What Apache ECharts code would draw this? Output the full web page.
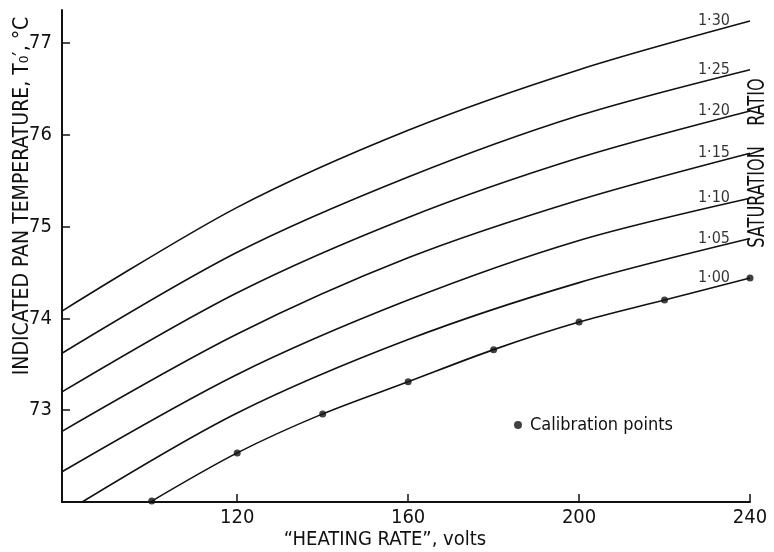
<!DOCTYPE html>
<html>
<head>
<meta charset="utf-8">
<script src="https://cdn.jsdelivr.net/npm/echarts@6/dist/echarts.min.js"></script>
<style>html,body{margin:0;padding:0;background:#fff}#c{width:774px;height:552px}</style>
</head>
<body>
<div id="c"></div>
<script>
// Heating rate (volts) at which each curve is read
const heatingRate = [79, 120, 160, 200, 240];
const heatingRate105 = [83.7, 120, 160, 200, 240];
// Indicated pan temperature (deg C) for each saturation ratio
const sr130 = [74.08, 75.21, 76.05, 76.71, 77.24];
const sr125 = [73.62, 74.72, 75.54, 76.21, 76.71];
const sr120 = [73.20, 74.28, 75.10, 75.75, 76.26];
const sr115 = [72.77, 73.83, 74.66, 75.29, 75.80];
const sr110 = [72.33, 73.39, 74.20, 74.85, 75.31];
const sr105 = [72.00, 72.97, 73.77, 74.39, 74.87];
// Calibration points (saturation ratio 1.00)
const calVolts = [100, 120, 140, 160, 180, 200, 220, 240];
const calTemp = [72.01, 72.535, 72.96, 73.31, 73.66, 73.96, 74.20, 74.44];
// Labels
const ratioLabels = ['1·30', '1·25', '1·20', '1·15', '1·10', '1·05', '1·00'];
const xTicks = [120, 160, 200, 240];
const yTicks = [73, 74, 75, 76, 77];

const FONT = '"Liberation Sans Narrow", "DejaVu Sans Condensed", Lato, sans-serif';
const zip = (xs, ys) => xs.map((x, i) => [x, ys[i]]);
const curves = [
  zip(heatingRate, sr130), zip(heatingRate, sr125), zip(heatingRate, sr120),
  zip(heatingRate, sr115), zip(heatingRate, sr110), zip(heatingRate105, sr105),
  zip(calVolts, calTemp)
];

const series = curves.map((d, i) => ({
  type: 'line', name: ratioLabels[i], data: d, smooth: 0.3, showSymbol: false,
  lineStyle: { color: '#111', width: 1.6 }, silent: true, z: 2
}));
series.push({
  type: 'scatter', name: 'labels',
  data: curves.map((d, i) => ({ value: d[d.length - 1], name: ratioLabels[i] })),
  symbolSize: 0, itemStyle: { color: '#111' }, silent: true,
  label: { show: true, position: 'inside', formatter: p => p.name, align: 'right',
    offset: [-20, 0], color: '#000', fontSize: 16, fontFamily: FONT }
});
series.push({
  type: 'scatter', name: 'Calibration points', data: zip(calVolts, calTemp),
  symbol: 'circle', symbolSize: 7, itemStyle: { color: '#111' }, z: 5
});

const chart = echarts.init(document.getElementById('c'), null, { renderer: 'canvas' });
chart.setOption({
  animation: false,
  backgroundColor: '#fff',
  grid: { left: 62, right: 24, top: 10, bottom: 50, containLabel: false },
  legend: {
    data: [{ name: 'Calibration points', icon: 'circle' }],
    left: 509, top: 411, itemWidth: 8, itemHeight: 8, itemGap: 4,
    textStyle: { fontFamily: FONT, fontSize: 18, color: '#111', padding: [0, 0, 0, 3] }, selectedMode: false
  },
  xAxis: {
    type: 'value', min: 79, max: 240,
    axisLine: { show: true, onZero: false, lineStyle: { color: '#111', width: 2 } },
    axisTick: { show: true, inside: true, length: 8, customValues: xTicks, lineStyle: { color: '#111', width: 1.5 } },
    axisLabel: { customValues: xTicks, margin: 6, color: '#111', fontSize: 20, fontFamily: FONT },
    splitLine: { show: false }
  },
  yAxis: {
    type: 'value', min: 72, max: 77.36,
    axisLine: { show: true, onZero: false, lineStyle: { color: '#111', width: 2 } },
    axisTick: { show: true, inside: true, length: 8, customValues: yTicks, lineStyle: { color: '#111', width: 1.5 } },
    axisLabel: { customValues: yTicks, margin: 10, color: '#111', fontSize: 20, fontFamily: FONT },
    splitLine: { show: false }
  },
  graphic: [
    { type: 'text', x: 23, y: 196, rotation: Math.PI / 2,
      style: { text: 'INDICATED PAN TEMPERATURE, T₀′, °C', fontFamily: FONT, fontSize: 21,
        fill: '#111', align: 'center', verticalAlign: 'middle' } },
    { type: 'text', x: 758, y: 163, rotation: Math.PI / 2, scaleX: 0.78,
      style: { text: 'SATURATION    RATIO', fontFamily: FONT, fontSize: 23,
        fill: '#111', align: 'center', verticalAlign: 'middle' } },
    { type: 'text', x: 385, y: 540,
      style: { text: '“HEATING RATE”, volts', fontFamily: FONT, fontSize: 20,
        fill: '#111', align: 'center', verticalAlign: 'middle' } }
  ],
  series
});
</script>
</body>
</html>
